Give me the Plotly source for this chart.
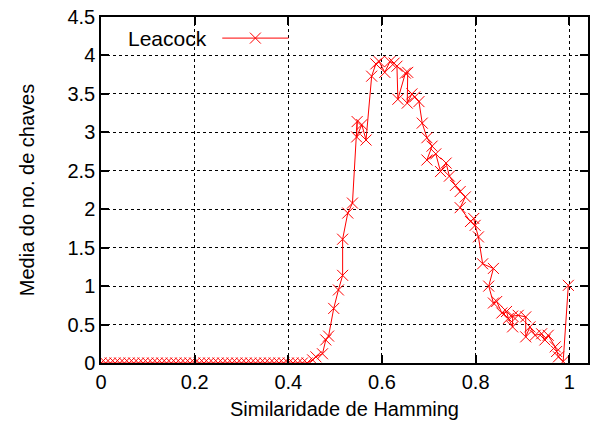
import plotly.graph_objects as go

# ---- data ----
zero_x = [round(i * 0.01, 2) for i in range(45)]
zero_y = [0.0] * 45

rise_x = [0.452, 0.459, 0.473, 0.480, 0.486, 0.497, 0.507, 0.516, 0.516, 0.527, 0.537,
          0.547, 0.546, 0.557, 0.566]
rise_y = [0.04, 0.08, 0.12, 0.30, 0.35, 0.71, 0.95, 1.14, 1.61, 1.95, 2.08,
          3.14, 2.94, 3.10, 2.90]

peak_x = [0.578, 0.587, 0.594, 0.606, 0.617, 0.626, 0.632, 0.634, 0.650, 0.655, 0.654,
          0.664, 0.670, 0.679]
peak_y = [3.73, 3.89, 3.92, 3.78, 3.92, 3.90, 3.86, 3.43, 3.77, 3.78, 3.38,
          3.50, 3.46, 3.40]

fall_x = [0.686, 0.696, 0.707, 0.696, 0.715, 0.725, 0.737, 0.744, 0.757, 0.767, 0.778,
          0.767, 0.789, 0.796, 0.799, 0.806, 0.815, 0.838, 0.828, 0.838, 0.845, 0.856,
          0.866, 0.870, 0.879, 0.879, 0.891, 0.907, 0.907, 0.916, 0.927, 0.941, 0.948,
          0.955, 0.970, 0.973, 0.977, 0.987, 0.998]
fall_y = [3.12, 2.93, 2.82, 2.64, 2.72, 2.49, 2.60, 2.43, 2.31, 2.23, 2.16,
          2.02, 1.84, 1.88, 1.79, 1.64, 1.29, 1.23, 1.00, 0.78, 0.80, 0.65,
          0.67, 0.58, 0.47, 0.61, 0.62, 0.60, 0.34, 0.47, 0.36, 0.38, 0.30,
          0.36, 0.21, 0.15, 0.08, 0.02, 1.01]

x_vals = zero_x + rise_x + peak_x + fall_x
y_vals = zero_y + rise_y + peak_y + fall_y

series_name = "Leacock"
x_ticks = [0, 0.2, 0.4, 0.6, 0.8, 1]
y_ticks = [0, 0.5, 1, 1.5, 2, 2.5, 3, 3.5, 4, 4.5]

RED = "#ff0000"
FONT = "Liberation Sans, Arial, sans-serif"

fig = go.Figure()
fig.add_trace(go.Scatter(
    x=x_vals, y=y_vals, mode="lines+markers", name=series_name,
    line=dict(color=RED, width=1),
    marker=dict(symbol="x-thin", size=11, line=dict(color=RED, width=1), color=RED),
    showlegend=False,
))

axis_common = dict(
    showline=True, linecolor="black", linewidth=1.5, mirror="allticks",
    ticks="inside", ticklen=8, tickwidth=1.5, tickcolor="black",
    showgrid=True, gridcolor="black", gridwidth=1, griddash="dot",
    zeroline=False, tickfont=dict(family=FONT, size=20, color="black"),
)

fig.update_xaxes(range=[0, 1.04], tickvals=x_ticks, ticktext=[str(t) for t in x_ticks],
                 title=dict(text="Similaridade de Hamming", font=dict(family=FONT, size=20, color="black"), standoff=10),
                 **axis_common)
fig.update_yaxes(range=[0, 4.5], tickvals=y_ticks, ticktext=[("%g" % t) for t in y_ticks],
                 title=dict(text="Media do no. de chaves", font=dict(family=FONT, size=20, color="black"), standoff=27),
                 **axis_common)

# legend (text on the left, sample on the right, like gnuplot)
ly = 0.939
fig.add_annotation(x=0.221, y=ly, xref="paper", yref="paper", text=series_name,
                   showarrow=False, xanchor="right", yanchor="middle",
                   font=dict(family=FONT, size=21, color="black"))
fig.add_shape(type="line", xref="paper", yref="paper", x0=0.249, x1=0.385, y0=ly, y1=ly,
              line=dict(color=RED, width=1))
mx, dx, dy = 0.317, 5.5 / 489, 5.5 / 346
fig.add_shape(type="path", xref="paper", yref="paper",
              path=f"M {mx-dx},{ly-dy} L {mx+dx},{ly+dy} M {mx-dx},{ly+dy} L {mx+dx},{ly-dy}",
              line=dict(color=RED, width=1))

fig.update_layout(
    width=594, height=433,
    margin=dict(l=101, r=4, t=17, b=70),
    paper_bgcolor="white", plot_bgcolor="white",
    font=dict(family=FONT, size=20, color="black"),
)

fig.write_html("out.html")
